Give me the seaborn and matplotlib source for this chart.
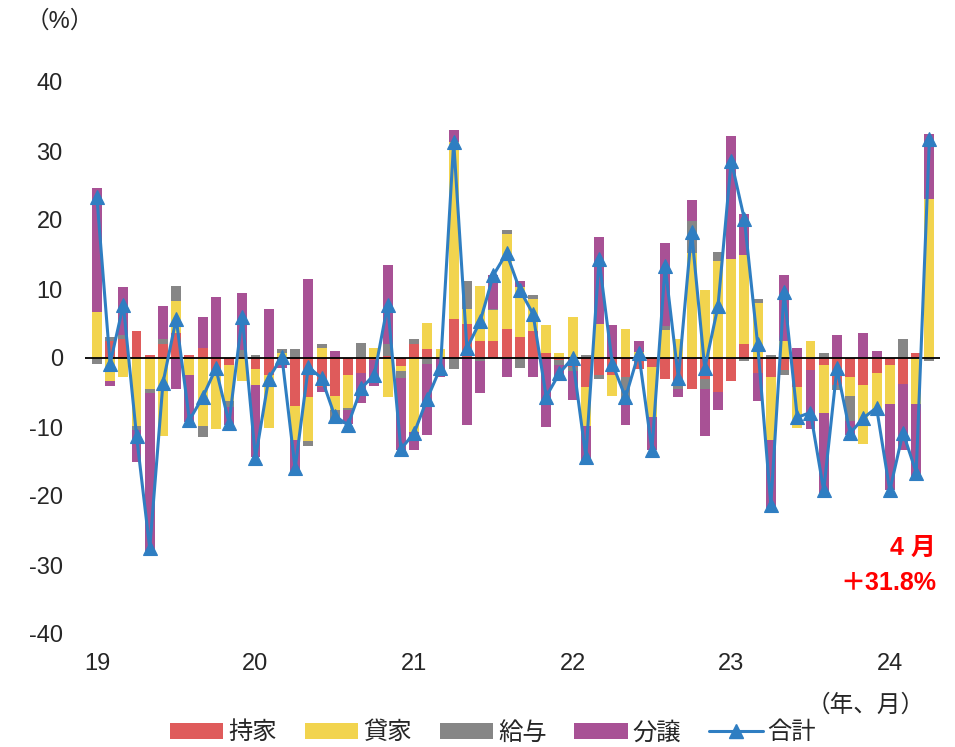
import numpy as np
import pandas as pd
import matplotlib
matplotlib.use("Agg")
import matplotlib.pyplot as plt
import seaborn as sns
from matplotlib.patches import Patch
from matplotlib.lines import Line2D

# months 2019-01 .. 2024-04
months = list(range(64))
year_ticks = [0, 12, 24, 36, 48, 60]
year_labels = ["19", "20", "21", "22", "23", "24"]
y_ticks = [-40, -30, -20, -10, 0, 10, 20, 30, 40]

mochiie = [0, 2.4, 2.7, 3.9, 0.4, 2.1, 3.6, 0.4, 1.5, -2.2, -1.0, 0,
           -1.6, -2.5, 0, -6.9, -5.7, -4.2, -5.5, -2.5, -2.2, -0.3, 0.3, -1.1,
           2.1, 1.3, 0, 5.6, 5.0, 2.5, 2.5, 4.2, 3.0, 3.9, 0.7, -0.3,
           -1.3, -4.2, -2.5, -2.5, -2.8, -1.6, -1.3, -3.1, -3.9, -4.5, -3.1, -4.9,
           -3.4, 2.1, -2.2, -2.8, -1.8, -4.2, -1.8, -1.0, -3.9, -2.8, -3.9, -2.2,
           -1.0, -3.7, 0.7, 0]
kashiya = [6.7, -3.4, -2.8, -9.9, -4.5, -11.3, 4.6, -2.5, -9.9, -8.1, -5.3, -3.4,
           -2.3, -7.6, 0.7, -5.0, -6.4, 1.5, -2.0, -4.7, 0, 1.5, -5.7, -0.8,
           -10.7, 3.8, 1.3, 25.7, 2.1, 7.9, 4.4, 13.7, 7.3, 4.6, 4.1, 0.7,
           6.0, -5.7, 5.0, -3.0, 4.2, 0.9, -7.3, 4.0, 2.7, 15.2, 9.8, 14.1,
           14.3, 12.8, 8.0, -9.1, 2.5, -5.9, 2.5, -7.0, 0, -2.7, -8.5, -5.8,
           -5.6, 0, -6.6, 23.0]
kyuyo = [-0.8, 0.6, 0.6, -0.6, -0.6, 0.7, 2.2, 0, -1.6, 0, -0.8, 1.2,
         0.4, 0, 0.6, 1.3, -0.6, 0.6, -1.4, -0.3, 2.2, 0, 1.8, -1.0,
         0.6, -0.8, 0, -1.6, 4.1, -0.4, 0.2, 0.6, -1.4, 0.6, 0, -0.7,
         -0.6, 0.4, -0.6, 0, -3.0, 0, 0, 0.7, -0.6, 4.7, -1.4, 1.2,
         0, -0.5, 0.5, 0.4, -0.7, 0, 0, 0.7, -0.8, -3.7, 0, -0.3,
         0, 2.7, 0, -0.4]
bunjo = [17.9, -0.6, 7.0, -4.6, -22.9, 4.8, -4.5, -6.8, 4.4, 8.8, -2.6, 8.2,
         -10.5, 7.1, -1.4, -5.2, 11.4, -0.7, 1.0, -2.1, -4.3, -3.7, 11.4, -10.5,
         -2.7, -10.4, -2.8, 1.7, -9.7, -4.7, 4.9, -2.8, 0.9, -2.8, -10.0, -1.9,
         -4.2, -5.0, 12.6, 4.8, -3.9, 1.5, -4.7, 11.9, -1.2, 3.0, -6.8, -2.6,
         17.9, 5.9, -4.1, -9.9, 9.6, 1.5, -8.5, -11.6, 3.3, -1.9, 3.6, 1.0,
         -12.6, -9.7, -10.6, 9.5]
total = [23.3, -0.8, 7.7, -11.3, -27.6, -3.6, 5.7, -9.0, -5.7, -1.5, -9.4, 6.0,
         -14.5, -3.0, 0.2, -16.0, -1.3, -2.9, -8.4, -9.7, -4.4, -2.4, 7.7, -13.2,
         -10.9, -5.9, -1.4, 31.3, 1.4, 5.3, 12.0, 15.2, 9.9, 6.4, -5.6, -2.2,
         0.0, -14.3, 14.3, -0.8, -5.7, 0.7, -13.3, 13.3, -2.9, 18.3, -1.5, 7.5,
         28.6, 20.1, 2.0, -21.3, 9.6, -8.6, -7.9, -19.2, -1.5, -10.9, -8.7, -7.2,
         -19.2, -10.8, -16.6, 31.8]

names = ["持家", "貸家", "給与", "分譲"]
colors = ["#DF5B5B", "#F2D44E", "#868686", "#A85195"]
line_color = "#2F7EC2"

sns.set_theme(style="white")
plt.rcParams["font.family"] = ["Liberation Sans", "Noto Sans CJK JP"]

fig = plt.figure(figsize=(9.55, 7.47), dpi=100)
ax = fig.add_axes([85 / 955, 113 / 747, 855 / 955, 552 / 747])

pos_b = np.zeros(len(months))
neg_b = np.zeros(len(months))
for vals, col in zip([mochiie, kashiya, kyuyo, bunjo], colors):
    v = np.array(vals, dtype=float)
    pos = np.clip(v, 0, None)
    neg = np.clip(v, None, 0)
    df = pd.DataFrame({"m": months, "pos": pos, "neg": neg})
    sns.barplot(data=df, x="m", y="pos", bottom=pos_b.copy(), color=col,
                saturation=1, width=0.75, native_scale=True, errorbar=None,
                linewidth=0, edgecolor="none", ax=ax, zorder=1)
    sns.barplot(data=df, x="m", y="neg", bottom=neg_b.copy(), color=col,
                saturation=1, width=0.75, native_scale=True, errorbar=None,
                linewidth=0, edgecolor="none", ax=ax, zorder=1)
    pos_b += pos
    neg_b += neg

ax.axhline(0, color="black", lw=1.3, zorder=2)

sns.lineplot(x=months, y=total, color=line_color, lw=2.2, marker="^",
             markersize=10, markeredgecolor=line_color, markeredgewidth=0.8,
             ax=ax, zorder=4, legend=False)

ax.set_xlim(-0.9, 63.8)
ax.set_ylim(-40, 40)
ax.set_xticks(year_ticks)
ax.set_xticklabels(year_labels, fontsize=17)
ax.set_yticks(y_ticks)
ax.set_yticklabels([str(t) for t in y_ticks], fontsize=17)
ax.tick_params(axis="x", length=0, pad=14)
ax.tick_params(axis="y", length=0, pad=16)
ax.set_xlabel("")
ax.set_ylabel("")
for s in ax.spines.values():
    s.set_visible(False)
ax.grid(False)

fig.text(60 / 955, 1 - 21 / 747, "（%）", fontsize=17, ha="center", va="center")
fig.text(866 / 955, 1 - 706 / 747, "（年、月）", fontsize=17, ha="center", va="center")
fig.text(936 / 955, 1 - 548 / 747, "4 月", fontsize=18, fontweight="bold",
         color="#FF0000", ha="right", va="center")
fig.text(936 / 955, 1 - 583 / 747, "＋31.8%", fontsize=18, fontweight="bold",
         color="#FF0000", ha="right", va="center")

handles = [Patch(facecolor=c, edgecolor="none") for c in colors]
handles.append(Line2D([0], [0], color=line_color, lw=2.2, marker="^",
                      markersize=10, markeredgecolor=line_color))
fig.legend(handles, names + ["合計"], loc="center", bbox_to_anchor=(493 / 955, 14 / 747),
           ncol=5, frameon=False, fontsize=17.5, handlelength=2.2, handleheight=0.62,
           handletextpad=0.2, columnspacing=1.15, borderpad=0.1)

fig.savefig("out.png", dpi=100)
